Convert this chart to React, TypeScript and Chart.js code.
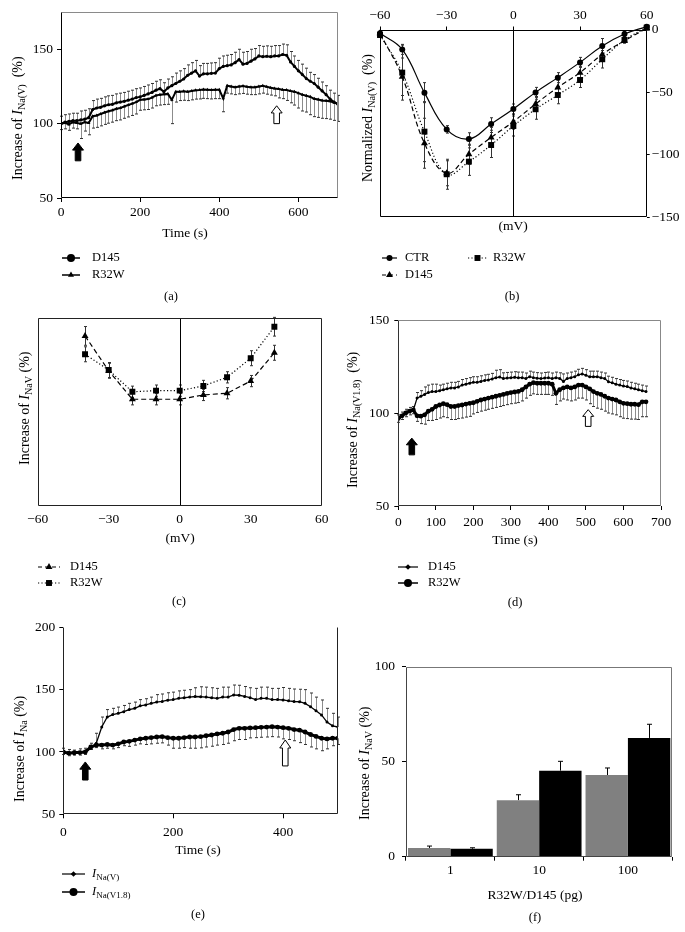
import React, { useEffect, useRef } from "react";
import { Chart, registerables } from "chart.js";

Chart.register(...registerables);

const FONT = '"Liberation Serif", "Times New Roman", serif';
const TICK = 13.5;
const TITLE = 14;
const LEG = 12.5;

// ================= DATA =================
// (a) INa(V) time course
const timeA = [0,10,20,30,40,50,60,70,80,90,100,110,120,130,140,150,160,170,180,190,200,210,220,230,240,250,260,270,280,290,300,310,320,330,340,350,360,370,380,390,400,410,420,430,440,450,460,470,480,490,500,510,520,530,540,550,560,570,580,590,600,610,620,630,640,650,660,670,680,690,700];
const d145A = [100,101,101.5,102,102,102.5,103,104,109.5,110.5, 111,112,112.7,113,114,114.5,115,115.8,116.5,117.5, 118,119,120,121,122.5,123.5,121.5,124,125.5,127, 128.5,130,132.5,134,135.5,132,133.5,133.5,133.8,134, 137,138.5,139,139.5,141,143,140,140.5,142,143.5, 145.5,145,145.3,145,145.5,145.5,146.5,146,141.5,138.5, 135.5,133,130.3,128.5,127,124.5,122,119.5,116.5,114.5,113];
const d145AErr = [5,5,5,5,5,6,6,6,6,6, 6,6,6,6,6,6,6,6,6,6, 6,6,6,6,6,6,6,6,6,7, 7,7,7,7,7,7,7,7,7,7, 7,7,7,7,7,7,8,8,8,7, 7,7,7,7,7,7,7,7,7,7, 7,7,7,6,6,6,6,6,6,6,6];
const r32wA = [100,100.5,99.5,101,100.5,100,101,100.5,105,105.5, 106.5,107.5,108.3,109,110,110.5,111.6,112.5,113.5,114.5, 116,116.3,116.5,117.5,119,119.5,119.8,120,116,121.5, 121.5,121.7,121.5,122,122.5,122.6,123,122.8,122.6,122.8, 122.8,117,125.5,125,124.5,125,125.3,124.8,124.5,124.5, 125,125.5,124.8,124.2,123.7,123.3,122.8,122.6,122,121.5, 120.5,119.5,118.8,118,116.7,116.2,115.6,115.4,115,114.2,113.5];
const r32wAErr = [4,4,4,4,4,10,6,8,8,8, 8,8,8,8,8,8,8,8,8,8, 7,7,7,7,7,7,7,7,16,7, 6,6,6,6,6,6,6,6,6,6, 6,9,5,5,5,5,5,5,5,5, 5,5,5,5,5,6,6,7,8,9, 10,11,11,12,12,12,12,12,12,12,12];
const ticksAx = [0, 200, 400, 600];
const ticksAy = [50, 100, 150];
const arrowsA = [
  { x: 43, y1: 75, y2: 87, filled: true },
  { x: 545, y1: 100, y2: 112, filled: false },
];

// (b) normalized I-V
const mvB = [-60,-50,-40,-30,-20,-10,0,10,20,30,40,50,60];
const ctrB = [-3,-15.9,-50.5,-79.9,-87.6,-75.6,-63.6,-50.3,-38.5,-26.3,-13.2,-3.6,2.3];
const ctrBErr = [1,4,8,3,5,5,4,4,4,4,6,2,1];
const d145B = [-3,-37.8,-91,-115,-99.8,-86.3,-73.7,-59.6,-46.3,-34.5,-19.9,-9,1];
const d145BErr = [2,15,20,10,8,8,6,6,6,5,5,2,1];
const r32wB = [-4.4,-34.5,-81.7,-115.8,-105.7,-92.4,-77.2,-63.8,-52.4,-40.4,-23.8,-8.4,1.5];
const r32wBErr = [2,22,24,12,11,10,8,8,7,6,7,2,1];
const ticksBx = [-60, -30, 0, 30, 60];
const ticksBy = [0, -50, -100, -150];

// (c) voltage dependence of increase
const mvC = [-40,-30,-20,-10,0,10,20,30,40];
const d145C = [90.6,72,56.8,56.8,56.8,59.1,60,66.5,81.6];
const d145CErr = [5,4,3,3,3,3,3,3,4];
const r32wC = [80.8,72.4,60.8,61.4,61.4,63.9,68.5,78.7,95.5];
const r32wCErr = [4,4,3,3,3,3,3,4,5];
const ticksCx = [-60, -30, 0, 30, 60];

// (d) INa(V1.8) time course
const timeD = [0,10,20,30,40,50,60,70,80,90,100,110,120,130,140,150,160,170,180,190,200,210,220,230,240,250,260,270,280,290,300,310,320,330,340,350,360,370,380,390,400,410,420,430,440,450,460,470,480,490,500,510,520,530,540,550,560,570,580,590,600,610,620,630,640,650,660];
const d145D = [97,98.5,100,101,101.5,108,109,110,111,111.5, 111.5,112,112.5,113,113.5,113.5,114,115,115.5,116, 116.5,116.5,117,117.5,117.8,118.3,119,119.3,118.6,118.8, 119,119.2,119,119,118.5,119.5,119,118.7,118.5,118.8, 119,118.5,119,118.6,117,118.5,119,119.5,120.5,121, 120.3,119.5,119.5,119.5,119,118.5,116.8,116.2,115.5,115, 114.5,114.2,113.5,113,112.5,112,111.5];
const d145DErr = [2,2,2,2,2,3,3,4,4,4, 4,3,3,3,3,3,3,3,3,3, 3,3,3,3,3,3,4,4,3,3, 3,3,3,3,3,3,3,3,3,3, 3,3,3,3,4,3,3,3,3,3, 3,3,3,3,3,3,3,3,3,3, 3,3,3,3,3,3,3];
const r32wD = [97,98.5,100,101,101.6,98.5,98.3,99,101,102, 103.5,104.3,105,104.5,103.5,103.5,104,104.3,104.8,105.2, 105.5,106.3,107,107.5,108,108.5,109,109.5,110,110.5, 111,111.3,111.6,112.5,114,115.5,116.3,116,116,116, 116,115.5,110.6,112.5,113.5,114,113.5,114,115,115, 114,113,111.5,110.6,110,109,108,107.5,107,106, 105.2,105,104.7,104.7,104.5,106,106];
const r32wDErr = [2,2,2,2,2,3,4,5,5,6, 7,7,7,7,7,7,7,7,7,7, 6,6,6,6,6,6,6,6,6,6, 6,6,6,6,6,6,6,6,6,6, 6,6,6,6,6,7,7,7,7,7, 7,8,8,8,8,8,8,8,8,8, 8,8,8,8,8,8,8];
const ticksDx = [0, 100, 200, 300, 400, 500, 600, 700];
const ticksDy = [50, 100, 150];
const arrowsD = [
  { x: 36, y1: 77.5, y2: 86.5, filled: true },
  { x: 506, y1: 92.8, y2: 101.8, filled: false },
];

// (e) INa(V) vs INa(V1.8)
const timeE = [0,10,20,30,40,50,60,70,80,90,100,110,120,130,140,150,160,170,180,190,200,210,220,230,240,250,260,270,280,290,300,310,320,330,340,350,360,370,380,390,400,410,420,430,440,450,460,470,480,490,500];
const inaVE = [100,99,98.5,99.5,100,103,107,120,128,130, 131,132.3,134,135,137,137.7,139,140,140.5,141.5, 142,143,143.5,144,144.5,144.3,144,143.5,143,144, 144,145.7,145.5,144.5,143.5,142,143,143,142,142, 141.7,141,140.5,140.3,139,136.3,133,129.7,124,121, 120];
const inaVEErr = [3,3,3,3,3,4,8,8,6,5, 5,5,5,5,5,5,5,6,6,6, 6,6,6,6,7,8,8,8,8,8, 8,8,8,8,8,9,9,9,9,9, 10,10,10,10,11,11,11,12,11,10, 8];
const inaV18E = [100,99,99.5,99.5,100,104,105.5,105.5,106,105.5, 106.5,108,108.5,109.5,110.5,111,111.5,112,112.3,111.5, 111,111,111.5,112,112,112.3,113,113.6,114.5,115, 116,118,119,119,119.3,119.5,119.8,120,120.3,120, 119.5,119,118,117.5,116,114,112.5,111,110.5,111, 111];
const inaV18EErr = [2,2,2,2,2,2,2,3,3,3, 3,3,4,4,4,5,5,5,5,6, 8,8,8,9,9,9,9,9,9,9, 9,9,9,9,8,8,8,8,8,8, 9,9,9,10,10,10,10,10,8,6, 5];
const ticksEx = [0, 200, 400];
const ticksEy = [50, 100, 150, 200];
const arrowsE = [
  { x: 40, y1: 77.5, y2: 92, filled: true },
  { x: 404, y1: 88.8, y2: 109.6, filled: false },
];

// (f) dose dependence
const doseF = ["1", "10", "100"];
const grayF = [4.6, 29.7, 43];
const grayFErr = [1, 2.9, 3.7];
const blackF = [4.2, 45.3, 62.5];
const blackFErr = [0.5, 4.9, 7.2];
const ticksFy = [0, 50, 100];

// ================= HELPERS =================
type Seg = { t: string; it?: boolean; sub?: boolean };
const plain = (t: string): Seg[] => [{ t }];
const withI = (pre: string, sub: string, post: string): Seg[] => [
  { t: pre },
  { t: "I", it: true },
  { t: sub, sub: true },
  { t: post },
];

const fontStr = (size: number, it: boolean) => `${it ? "italic " : ""}${size}px ${FONT}`;

function drawRich(ctx: any, item: any) {
  const size = item.size;
  const parts = item.segs.map((s: Seg) => {
    const sz = s.sub ? size * 0.72 : size;
    const f = fontStr(sz, !!s.it);
    ctx.font = f;
    return { ...s, f, w: ctx.measureText(s.t).width };
  });
  const total = parts.reduce((a: number, p: any) => a + p.w, 0);
  ctx.save();
  ctx.translate(item.x, item.y);
  if (item.rot) ctx.rotate(-Math.PI / 2);
  let x = item.align === "left" ? 0 : -total / 2;
  ctx.textBaseline = "middle";
  ctx.textAlign = "left";
  ctx.fillStyle = "#000";
  for (const p of parts) {
    ctx.font = p.f;
    ctx.fillText(p.t, x, p.sub ? size * 0.28 : 0);
    x += p.w;
  }
  ctx.restore();
}

function drawMarker(ctx: any, style: string, x: number, y: number, r: number) {
  ctx.save();
  ctx.setLineDash([]);
  ctx.fillStyle = "#000";
  ctx.beginPath();
  if (style === "circle") {
    ctx.arc(x, y, r, 0, Math.PI * 2);
  } else if (style === "triangle") {
    for (let k = 0; k < 3; k++) {
      const ang = (k * 2 * Math.PI) / 3;
      const px = x + Math.sin(ang) * r;
      const py = y - Math.cos(ang) * r;
      if (k === 0) ctx.moveTo(px, py);
      else ctx.lineTo(px, py);
    }
    ctx.closePath();
  } else if (style === "rect") {
    const s = r * Math.SQRT1_2;
    ctx.rect(x - s, y - s, 2 * s, 2 * s);
  } else if (style === "rectRot") {
    ctx.moveTo(x, y - r);
    ctx.lineTo(x + r, y);
    ctx.lineTo(x, y + r);
    ctx.lineTo(x - r, y);
    ctx.closePath();
  }
  ctx.fill();
  ctx.restore();
}

function drawErrors(chart: any) {
  const ctx = chart.ctx;
  chart.data.datasets.forEach((ds: any, i: number) => {
    if (!ds.err) return;
    const meta = chart.getDatasetMeta(i);
    const ys = chart.scales[meta.yAxisID];
    const cap = (ds.errCap ?? 3) / 2;
    const dir = ds.errDir || "both";
    const stems = new Path2D();
    const caps = new Path2D();
    meta.data.forEach((el: any, j: number) => {
      const raw = ds.data[j];
      const v = typeof raw === "number" ? raw : raw.y;
      const e = ds.err[j];
      if (!e) return;
      const x = Math.round(el.x) + 0.5;
      const mid = ys.getPixelForValue(v);
      const hi = ys.getPixelForValue(v + e);
      const lo = ys.getPixelForValue(v - e);
      const a = dir === "down" ? mid : hi;
      const b = dir === "up" ? mid : lo;
      stems.moveTo(x, a);
      stems.lineTo(x, b);
      if (dir !== "down") {
        caps.moveTo(x - cap, hi);
        caps.lineTo(x + cap, hi);
      }
      if (dir !== "up") {
        caps.moveTo(x - cap, lo);
        caps.lineTo(x + cap, lo);
      }
    });
    ctx.save();
    ctx.setLineDash([]);
    ctx.lineWidth = ds.errWidth || 1;
    ctx.strokeStyle = ds.errColor || "#555";
    ctx.stroke(stems);
    ctx.strokeStyle = ds.errCapColor || ds.errColor || "#555";
    ctx.stroke(caps);
    ctx.restore();
  });
}

function makeDecor(cfg: any) {
  return {
    id: "decor",
    beforeDatasetsDraw(chart: any) {
      drawErrors(chart);
    },
    afterDraw(chart: any) {
      const ctx = chart.ctx;
      const a = chart.chartArea;
      const xs = chart.scales.x;
      const ys = chart.scales.y;
      ctx.save();
      ctx.setLineDash([]);
      (cfg.vlines || []).forEach((v: number) => {
        const px = Math.round(xs.getPixelForValue(v)) + 0.5;
        ctx.strokeStyle = "#000";
        ctx.lineWidth = 1;
        ctx.beginPath();
        ctx.moveTo(px, a.top);
        ctx.lineTo(px, a.bottom);
        ctx.stroke();
      });
      const f = cfg.frame || {};
      const L = Math.round(a.left) + 0.5;
      const R = Math.round(a.right) - 0.5;
      const T = Math.round(a.top) + 0.5;
      const B = Math.round(a.bottom) - 0.5;
      const side = (c: string | undefined, x1: number, y1: number, x2: number, y2: number) => {
        if (!c) return;
        ctx.strokeStyle = c;
        ctx.lineWidth = f.width || 1;
        ctx.beginPath();
        ctx.moveTo(x1, y1);
        ctx.lineTo(x2, y2);
        ctx.stroke();
      };
      side(f.top, L, T, R, T);
      side(f.right, R, T, R, B);
      side(f.bottom, L, B, R, B);
      side(f.left, L, T, L, B);
      (cfg.arrows || []).forEach((ar: any) => {
        const x = xs.getPixelForValue(ar.x);
        const yb = ys.getPixelForValue(ar.y1);
        const yt = ys.getPixelForValue(ar.y2);
        const hh = Math.min(8, (yb - yt) * 0.4);
        const hw = 5.5;
        const sw = 2.8;
        ctx.beginPath();
        ctx.moveTo(x, yt);
        ctx.lineTo(x + hw, yt + hh);
        ctx.lineTo(x + sw, yt + hh);
        ctx.lineTo(x + sw, yb);
        ctx.lineTo(x - sw, yb);
        ctx.lineTo(x - sw, yt + hh);
        ctx.lineTo(x - hw, yt + hh);
        ctx.closePath();
        ctx.fillStyle = ar.filled ? "#000" : "#fff";
        ctx.fill();
        ctx.strokeStyle = "#000";
        ctx.lineWidth = 1;
        ctx.stroke();
      });
      ctx.restore();
      (cfg.texts || []).forEach((t: any) => drawRich(ctx, t));
      (cfg.legend || []).forEach((it: any) => {
        ctx.save();
        ctx.strokeStyle = "#000";
        ctx.lineWidth = it.lw;
        ctx.setLineDash(it.dash || []);
        ctx.beginPath();
        ctx.moveTo(it.x1, it.y);
        ctx.lineTo(it.x2, it.y);
        ctx.stroke();
        ctx.restore();
        drawMarker(ctx, it.marker, (it.x1 + it.x2) / 2, it.y, it.r);
        drawRich(ctx, { x: it.tx, y: it.y, segs: it.segs, size: LEG, align: "left" });
      });
    },
  };
}

const minus = (v: number) => (v < 0 ? "\u2212" + Math.abs(v) : String(v));
const fitH = (h: number) => (s: any) => {
  s.height = h;
};
const fitW = (w: number) => (s: any) => {
  s.width = w;
};

function linAxis(min: number, max: number, tickVals: number[], fit: any, pad: number, tl: number, extra: any = {}) {
  return {
    type: "linear",
    min,
    max,
    afterBuildTicks: (s: any) => {
      s.ticks = tickVals.map((v) => ({ value: v }));
    },
    afterFit: fit,
    ticks: {
      font: { family: FONT, size: TICK },
      color: "#000",
      padding: pad,
      maxRotation: 0,
      autoSkip: false,
      callback: (v: any) => minus(Number(v)),
    },
    grid: { drawOnChartArea: false, drawTicks: tl > 0, tickLength: tl, color: "#000" },
    border: { display: false },
    ...extra,
  };
}

function lineDs(label: string, xs: number[], ys: number[], o: any) {
  return {
    label,
    data: xs.map((x, i) => ({ x, y: ys[i] })),
    borderColor: "#000",
    backgroundColor: "#000",
    pointBackgroundColor: "#000",
    pointBorderColor: "#000",
    pointBorderWidth: 0,
    fill: false,
    tension: 0,
    ...o,
  };
}

function baseOpts(padding: any, scales: any) {
  return {
    responsive: false,
    animation: false,
    devicePixelRatio: 1,
    events: [],
    layout: { padding },
    plugins: { legend: { display: false }, tooltip: { enabled: false } },
    scales,
  };
}

const TS_ERR = { errColor: "#8c8c8c", errCapColor: "#333", errCap: 3 };

// ================= PANELS =================
function cfgA() {
  return {
    type: "line",
    data: {
      datasets: [
        lineDs("R32W", timeA, r32wA, { borderWidth: 2, pointStyle: "triangle", pointRadius: 2, err: r32wAErr, errDir: "down", ...TS_ERR }),
        lineDs("D145", timeA, d145A, { borderWidth: 2, pointStyle: "circle", pointRadius: 1.6, err: d145AErr, errDir: "up", ...TS_ERR }),
      ],
    },
    options: baseOpts({ left: 0, top: 9, right: 2, bottom: 0 }, {
      x: linAxis(0, 700, ticksAx, fitH(107), 2, 4),
      y: linAxis(50, 175, ticksAy, fitW(61), 4, 4),
    }),
    plugins: [
      makeDecor({
        frame: { left: "#000", bottom: "#000", top: "#8a8a8a", right: "#8a8a8a" },
        arrows: arrowsA,
        texts: [
          { x: 18, y: 180, rot: true, align: "left", size: TITLE, segs: withI("Increase of ", "Na(V)", "  (%)") },
          { x: 185, y: 233, size: TICK, segs: plain("Time (s)") },
          { x: 171, y: 297, size: 12.5, segs: plain("(a)") },
        ],
        legend: [
          { x1: 62, x2: 80, y: 258, lw: 1.5, marker: "circle", r: 4, tx: 92, segs: plain("D145") },
          { x1: 62, x2: 80, y: 275, lw: 1.5, marker: "triangle", r: 3.5, tx: 92, segs: plain("R32W") },
        ],
      }),
    ],
  };
}

function cfgB() {
  const common = { borderWidth: 1.2, tension: 0.4, clip: false, errColor: "#333", errCap: 3 };
  return {
    type: "line",
    data: {
      datasets: [
        lineDs("R32W", mvB, r32wB, { ...common, borderDash: [1.2, 2.2], pointStyle: "rect", pointRadius: 4.2, err: r32wBErr }),
        lineDs("D145", mvB, d145B, { ...common, borderDash: [5, 3], pointStyle: "triangle", pointRadius: 4, err: d145BErr }),
        lineDs("CTR", mvB, ctrB, { ...common, pointStyle: "circle", pointRadius: 3, err: ctrBErr }),
      ],
    },
    options: baseOpts({ left: 38, top: 0, right: 0, bottom: 88 }, {
      x: linAxis(-60, 60, ticksBx, fitH(29.5), 3, 3, { position: "top" }),
      y: linAxis(-150, 0, ticksBy, fitW(38.3), 2, 3, { position: "right" }),
    }),
    plugins: [
      makeDecor({
        frame: { left: "#000", bottom: "#000", top: "#000", right: "#000" },
        vlines: [0],
        texts: [
          { x: 26, y: 182, rot: true, align: "left", size: TITLE, segs: withI("Normalized ", "Na(V)", "  (%)") },
          { x: 171, y: 226, size: TICK, segs: plain("(mV)") },
          { x: 170, y: 297, size: 12.5, segs: plain("(b)") },
        ],
        legend: [
          { x1: 40, x2: 55, y: 258, lw: 1.2, marker: "circle", r: 3, tx: 63, segs: plain("CTR") },
          { x1: 126, x2: 145, y: 258, lw: 1.2, dash: [1.2, 2.2], marker: "rect", r: 4.2, tx: 151, segs: plain("R32W") },
          { x1: 40, x2: 55, y: 275, lw: 1.2, dash: [4, 3], marker: "triangle", r: 4, tx: 63, segs: plain("D145") },
        ],
      }),
    ],
  };
}

function cfgC() {
  const common = { borderWidth: 1.2, errColor: "#333", errCap: 3 };
  return {
    type: "line",
    data: {
      datasets: [
        lineDs("D145", mvC, d145C, { ...common, borderDash: [5, 3], pointStyle: "triangle", pointRadius: 4, err: d145CErr }),
        lineDs("R32W", mvC, r32wC, { ...common, borderDash: [1.2, 2.2], pointStyle: "rect", pointRadius: 4.2, err: r32wCErr }),
      ],
    },
    options: baseOpts({ left: 37.7, top: 13.3, right: 20.3, bottom: 0 }, {
      x: linAxis(-60, 60, ticksCx, fitH(104.3), 6, 0),
      y: { type: "linear", min: 0, max: 100, display: false },
    }),
    plugins: [
      makeDecor({
        frame: { left: "#222", bottom: "#222", top: "#222", right: "#222" },
        vlines: [0],
        texts: [
          { x: 25, y: 160, rot: true, align: "left", size: TITLE, segs: withI("Increase of ", "NaV", " (%)") },
          { x: 180, y: 233, size: TICK, segs: plain("(mV)") },
          { x: 179, y: 297, size: 12.5, segs: plain("(c)") },
        ],
        legend: [
          { x1: 38, x2: 60, y: 262, lw: 1.2, dash: [4, 3], marker: "triangle", r: 4, tx: 70, segs: plain("D145") },
          { x1: 38, x2: 60, y: 278, lw: 1.2, dash: [1.2, 2.2], marker: "rect", r: 4.2, tx: 70, segs: plain("R32W") },
        ],
      }),
    ],
  };
}

function cfgD() {
  return {
    type: "line",
    data: {
      datasets: [
        lineDs("R32W", timeD, r32wD, { borderWidth: 3, pointStyle: "circle", pointRadius: 2.4, err: r32wDErr, errDir: "down", ...TS_ERR }),
        lineDs("D145", timeD, d145D, { borderWidth: 1.3, pointStyle: "circle", pointRadius: 1.5, err: d145DErr, errDir: "up", ...TS_ERR }),
      ],
    },
    options: baseOpts({ left: 0, top: 15, right: 24, bottom: 0 }, {
      x: linAxis(0, 700, ticksDx, fitH(104), 4, 4),
      y: linAxis(50, 150, ticksDy, fitW(56.3), 5, 4),
    }),
    plugins: [
      makeDecor({
        frame: { left: "#333", bottom: "#333", top: "#888", right: "#888" },
        arrows: arrowsD,
        texts: [
          { x: 11, y: 183, rot: true, align: "left", size: TITLE, segs: withI("Increase of ", "Na(V1.8)", "  (%)") },
          { x: 173, y: 235, size: TICK, segs: plain("Time (s)") },
          { x: 173, y: 298, size: 12.5, segs: plain("(d)") },
        ],
        legend: [
          { x1: 56, x2: 76, y: 262, lw: 1.2, marker: "rectRot", r: 2.8, tx: 86, segs: plain("D145") },
          { x1: 56, x2: 76, y: 278, lw: 1.5, marker: "circle", r: 4, tx: 86, segs: plain("R32W") },
        ],
      }),
    ],
  };
}

function cfgE() {
  return {
    type: "line",
    data: {
      datasets: [
        lineDs("INa(V1.8)", timeE, inaV18E, { borderWidth: 3, pointStyle: "circle", pointRadius: 2.4, err: inaV18EErr, errDir: "down", ...TS_ERR }),
        lineDs("INa(V)", timeE, inaVE, { borderWidth: 1.3, pointStyle: "circle", pointRadius: 1.5, err: inaVEErr, errDir: "up", ...TS_ERR }),
      ],
    },
    options: baseOpts({ left: 0, top: 17.3, right: 2, bottom: 0 }, {
      x: linAxis(0, 500, ticksEx, fitH(117.7), 6, 4),
      y: linAxis(50, 200, ticksEy, fitW(63.3), 4, 4),
    }),
    plugins: [
      makeDecor({
        frame: { left: "#222", bottom: "#222", right: "#222" },
        arrows: arrowsE,
        texts: [
          { x: 20, y: 192, rot: true, align: "left", size: TITLE, segs: withI("Increase of ", "Na", " (%)") },
          { x: 198, y: 240, size: TICK, segs: plain("Time (s)") },
          { x: 198, y: 305, size: 12.5, segs: plain("(e)") },
        ],
        legend: [
          { x1: 62, x2: 85, y: 264, lw: 1.2, marker: "rectRot", r: 2.8, tx: 92, segs: [{ t: "I", it: true }, { t: "Na(V)", sub: true }] },
          { x1: 62, x2: 85, y: 282, lw: 1.5, marker: "circle", r: 4, tx: 92, segs: [{ t: "I", it: true }, { t: "Na(V1.8)", sub: true }] },
        ],
      }),
    ],
  };
}

function cfgF() {
  return {
    type: "bar",
    data: {
      labels: doseF,
      datasets: [
        { label: "R32W", data: grayF, backgroundColor: "#808080", borderWidth: 0, err: grayFErr, errDir: "up", errCap: 5, errColor: "#000" },
        { label: "D145", data: blackF, backgroundColor: "#000", borderWidth: 0, err: blackFErr, errDir: "up", errCap: 5, errColor: "#000" },
      ],
    },
    options: {
      ...baseOpts({ left: 0, top: 56.7, right: 12.7, bottom: 0 }, {
        x: {
          type: "category",
          afterFit: fitH(75.3),
          ticks: { font: { family: FONT, size: TICK }, color: "#000", padding: 2, maxRotation: 0 },
          grid: { drawOnChartArea: false, drawTicks: true, tickLength: 4, color: "#000", offset: true },
          border: { display: false },
        },
        y: linAxis(0, 100, ticksFy, fitW(64), 7, 4),
      }),
      datasets: { bar: { categoryPercentage: 0.955, barPercentage: 1 } },
    },
    plugins: [
      makeDecor({
        frame: { left: "#444", bottom: "#444", top: "#777", right: "#777" },
        texts: [
          { x: 23, y: 210, rot: true, align: "left", size: TITLE, segs: withI("Increase of ", "NaV", " (%)") },
          { x: 193, y: 285, size: TICK, segs: plain("R32W/D145 (pg)") },
          { x: 193, y: 308, size: 12.5, segs: plain("(f)") },
        ],
      }),
    ],
  };
}

// ================= COMPONENTS =================
function ChartPanel({ left, top, width, height, make }: any) {
  const ref = useRef<HTMLCanvasElement>(null);
  useEffect(() => {
    const c = new Chart(ref.current as HTMLCanvasElement, make());
    return () => c.destroy();
  }, []);
  return (
    <canvas
      ref={ref}
      width={width}
      height={height}
      style={{ position: "absolute", left, top, width, height }}
    />
  );
}

export default function App() {
  return (
    <div style={{ position: "absolute", left: 0, top: 0, width: 685, height: 932, background: "#fff", overflow: "hidden" }}>
      <ChartPanel left={0} top={0} width={342} height={305} make={cfgA} />
      <ChartPanel left={342} top={0} width={343} height={305} make={cfgB} />
      <ChartPanel left={0} top={305} width={342} height={305} make={cfgC} />
      <ChartPanel left={342} top={305} width={343} height={305} make={cfgD} />
      <ChartPanel left={0} top={610} width={342} height={322} make={cfgE} />
      <ChartPanel left={342} top={610} width={343} height={322} make={cfgF} />
    </div>
  );
}
